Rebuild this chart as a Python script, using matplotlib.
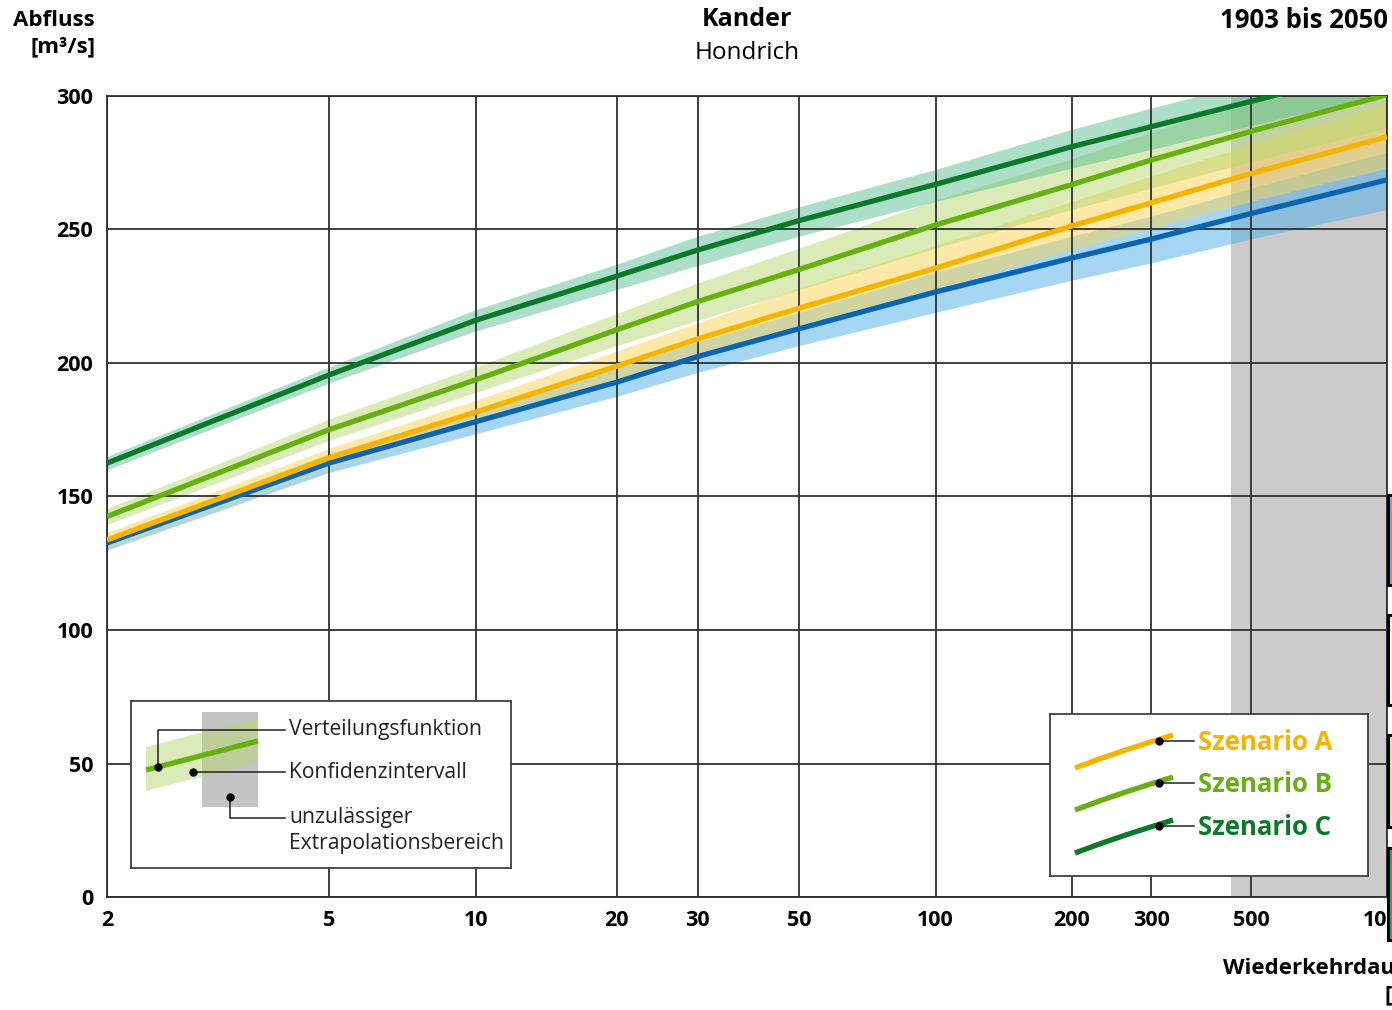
import numpy as np
import matplotlib
matplotlib.use('Agg')
import matplotlib.pyplot as plt
from matplotlib.patches import Rectangle, Polygon

plt.rcParams['font.family'] = ['Open Sans', 'DejaVu Sans']

# Wiederkehrdauer [Jahre]
jahre = [2, 5, 10, 20, 30, 50, 100, 200, 300, 500, 1000]
y_ticks = [0, 50, 100, 150, 200, 250, 300]

# Verteilungsfunktionen (Abfluss in m3/s) mit Konfidenzintervall
ist = [132.6, 162.5, 178.0, 192.8, 202.4, 212.8, 226.6, 239.3, 246.4, 256.0, 268.6]
ist_unten = [130.0, 159.0, 173.5, 187.5, 196.5, 206.5, 219.0, 231.0, 237.5, 246.5, 257.5]
ist_oben = [135.0, 166.0, 182.5, 198.0, 208.0, 219.0, 234.0, 247.5, 255.0, 265.5, 279.0]

szen_a = [133.7, 164.4, 181.6, 198.8, 209.0, 220.5, 235.5, 251.3, 260.0, 271.0, 284.7]
szen_a_unten = [131.0, 161.0, 177.0, 193.5, 202.5, 213.5, 227.5, 242.5, 250.5, 260.5, 273.0]
szen_a_oben = [136.5, 168.0, 186.0, 204.5, 215.0, 228.0, 244.0, 260.5, 270.0, 282.0, 297.0]

szen_b = [142.5, 175.0, 193.7, 212.4, 223.0, 235.0, 251.7, 266.8, 276.0, 286.8, 300.5]
szen_b_unten = [139.5, 171.0, 189.0, 206.5, 216.0, 227.5, 243.0, 257.5, 265.5, 275.5, 288.0]
szen_b_oben = [145.5, 179.0, 198.5, 218.5, 230.0, 243.0, 261.0, 276.5, 286.5, 298.5, 313.0]

szen_c = [162.5, 195.5, 216.0, 232.5, 242.3, 253.3, 266.9, 281.0, 288.5, 298.0, 311.0]
szen_c_unten = [160.0, 192.5, 212.0, 227.5, 236.5, 247.5, 260.5, 273.0, 280.0, 289.0, 301.0]
szen_c_oben = [165.0, 198.5, 220.0, 237.0, 247.5, 258.5, 272.5, 287.5, 295.5, 305.0, 318.0]

# Grenze unzulaessiger Extrapolationsbereich
extrapol_ab = 450

W, H = 1392, 1010
c_blau, b_blau = '#0a64b4', '#4db1eb'
c_gelb, b_gelb = '#f5b400', '#fbd351'
c_hgruen, b_hgruen = '#66b010', '#b7d971'
c_dgruen, b_dgruen = '#0a7a2a', '#5cbf92'
grau = '#cbcbcb'
gitter = '#303030'


def gumbel(t):
    t = np.asarray(t, dtype=float)
    return -np.log(-np.log(1 - 1 / np.clip(t, 1.0001, None)))


def gumbel_inv(y):
    y = np.asarray(y, dtype=float)
    return 1 / (1 - np.exp(-np.exp(-y)))


fig = plt.figure(figsize=(W / 100, H / 100), dpi=100)
ax = fig.add_axes([107 / W, 1 - 897 / H, 1280 / W, 801 / H])
ax.set_xscale('function', functions=(gumbel, gumbel_inv))
ax.set_xlim(2, 1000)
ax.set_ylim(0, 300)

ax.axvspan(extrapol_ab, 1000, color=grau, lw=0, zorder=0.5)

kurven = [
    (ist, ist_unten, ist_oben, c_blau, b_blau),
    (szen_a, szen_a_unten, szen_a_oben, c_gelb, b_gelb),
    (szen_b, szen_b_unten, szen_b_oben, c_hgruen, b_hgruen),
    (szen_c, szen_c_unten, szen_c_oben, c_dgruen, b_dgruen),
]
for werte, unten, oben, c, b in kurven:
    ax.fill_between(jahre, unten, oben, color=b, alpha=0.5, lw=0, zorder=1)
for werte, unten, oben, c, b in kurven:
    ax.plot(jahre, werte, color=c, lw=3.8, solid_capstyle='butt', zorder=3)

ax.set_xticks(jahre)
ax.set_xticklabels([str(j) for j in jahre])
ax.set_yticks(y_ticks)
ax.minorticks_off()
ax.grid(True, color=gitter, lw=1.3, zorder=2)
ax.set_axisbelow(False)
ax.tick_params(length=0, labelsize=15.5, pad=9)
ax.tick_params(axis='y', pad=10)
for lab in ax.get_xticklabels() + ax.get_yticklabels():
    lab.set_fontweight('bold')
for s in ax.spines.values():
    s.set_color(gitter)
    s.set_linewidth(1.3)

# Beschriftungen
fig.text(95 / W, 1 - 20 / H, 'Abfluss', ha='right', va='center', fontsize=16, fontweight='bold')
fig.text(95 / W, 1 - 47 / H, '[m³/s]', ha='right', va='center', fontsize=16, fontweight='bold')
fig.text(747 / W, 1 - 20 / H, 'Kander', ha='center', va='center', fontsize=18, fontweight='bold')
fig.text(747 / W, 1 - 53 / H, 'Hondrich', ha='center', va='center', fontsize=17.5)
fig.text(1388 / W, 1 - 20 / H, '1903 bis 2050', ha='right', va='center', fontsize=18.5, fontweight='bold')
fig.text(1223 / W, 1 - 968 / H, 'Wiederkehrdauer', ha='left', va='center', fontsize=16, fontweight='bold')
fig.text(1384 / W, 1 - 995 / H, '[Jahre]', ha='left', va='center', fontsize=16, fontweight='bold')


def pixel_axes(x0, y0, x1, y1):
    a = fig.add_axes([x0 / W, 1 - y1 / H, (x1 - x0) / W, (y1 - y0) / H], zorder=5)
    a.set_xlim(x0, x1)
    a.set_ylim(y1, y0)
    a.set_xticks([])
    a.set_yticks([])
    a.set_facecolor('white')
    for s in a.spines.values():
        s.set_color('#404040')
        s.set_linewidth(1.3)
    return a


# Erklaerung links
lg = pixel_axes(131, 701, 511, 868)
lg.add_patch(Rectangle((202, 712), 56, 95, color='#c4c4c4', lw=0))
lg.add_patch(Polygon([(146, 747), (258, 718), (258, 762), (146, 791)],
                     color=b_hgruen, alpha=0.5, lw=0))
lg.plot([146, 258], [770, 741], color=c_hgruen, lw=3.8, solid_capstyle='butt')
lg.plot([158, 158, 285], [767, 730, 730], color='#202020', lw=1.1)
lg.plot([193, 285], [772, 772], color='#202020', lw=1.1)
lg.plot([230, 230, 285], [797, 818, 818], color='#202020', lw=1.1)
lg.plot([158, 193, 230], [767, 772, 797], 'o', color='black', ms=5)
lg.text(289, 730, 'Verteilungsfunktion', va='center', fontsize=15.2, color='#222222')
lg.text(289, 772, 'Konfidenzintervall', va='center', fontsize=15.2, color='#222222')
lg.text(289, 817, 'unzulässiger', va='center', fontsize=15.2, color='#222222')
lg.text(289, 844, 'Extrapolationsbereich', va='center', fontsize=15.2, color='#222222')

# Erklaerung rechts
lr = pixel_axes(1050, 714, 1368, 876)
eintraege = [('Szenario A', c_gelb, 0), ('Szenario B', c_hgruen, 42), ('Szenario C', c_dgruen, 85)]
for name, c, dy in eintraege:
    lr.plot([1075, 1100, 1125, 1150, 1173],
            [768 + dy, 758.8 + dy, 750.2 + dy, 742.2 + dy, 735 + dy],
            color=c, lw=3.8, solid_capstyle='butt')
    lr.plot([1159, 1194], [741 + dy, 741 + dy], color='#202020', lw=1.1)
    lr.plot([1159], [741 + dy], 'o', color='black', ms=5)
    lr.text(1198, 743 + dy, name, va='center', fontsize=18.5, fontweight='bold', color=c)

# angeschnittene Kaestchen am rechten Rand
for (y0, y1), fc in zip([(495, 585), (615, 705), (735, 827), (848, 940)],
                        ['#7aa6e0', '#fffbd5', '#d2f0a8', '#22b060']):
    fig.add_artist(Rectangle((1388 / W, 1 - y1 / H), 60 / W, (y1 - y0) / H,
                             transform=fig.transFigure, fc=fc, ec='black', lw=2.2, zorder=10))

fig.savefig('out.png', dpi=100)
